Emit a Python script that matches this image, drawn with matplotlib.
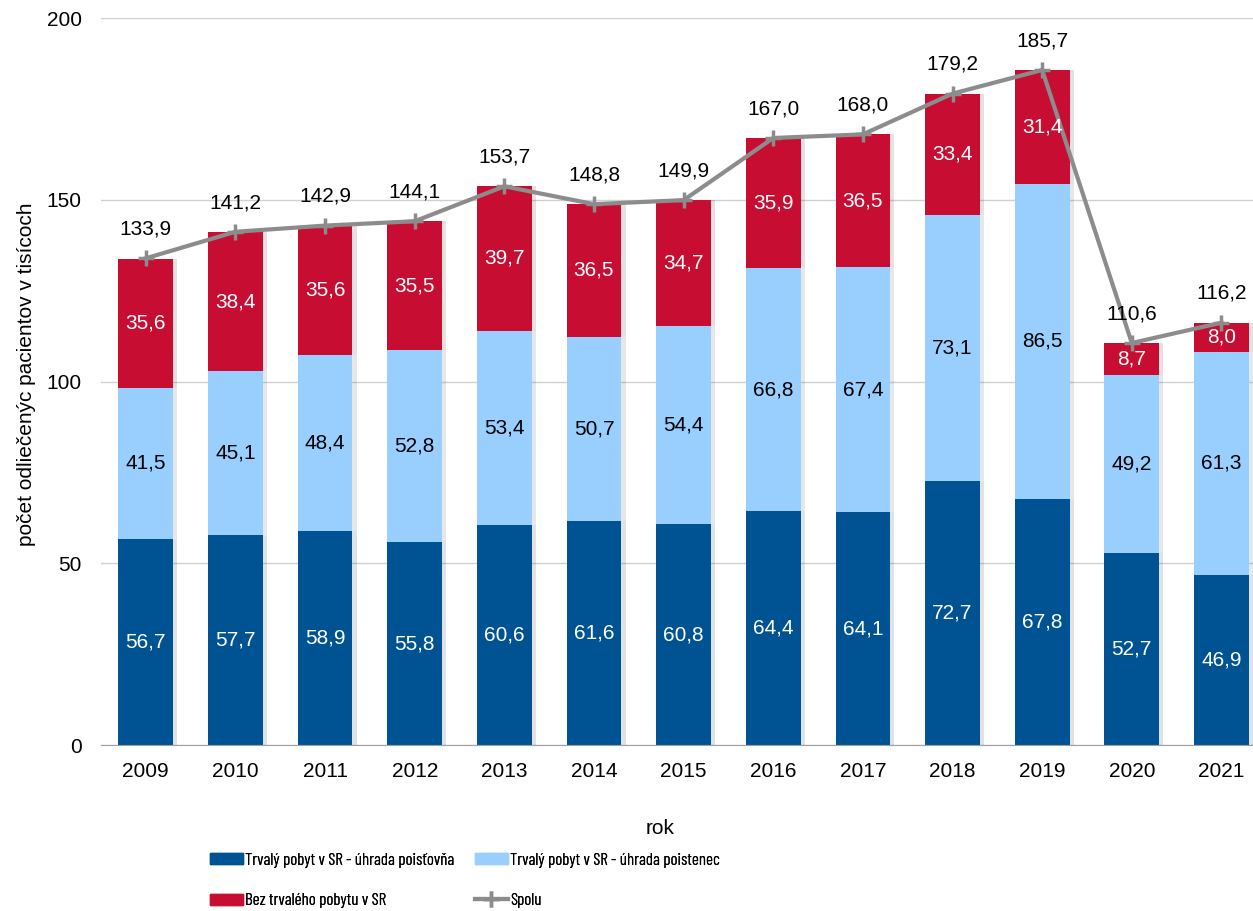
import numpy as np
import matplotlib.pyplot as plt
import matplotlib.patheffects as pe
from matplotlib.lines import Line2D
from matplotlib.patches import Patch

plt.rcParams['font.family'] = ['Liberation Sans', 'DejaVu Sans']

years = ['2009', '2010', '2011', '2012', '2013', '2014', '2015', '2016',
         '2017', '2018', '2019', '2020', '2021']
poistovna = [56.7, 57.7, 58.9, 55.8, 60.6, 61.6, 60.8, 64.4, 64.1, 72.7,
             67.8, 52.7, 46.9]
poistenec = [41.5, 45.1, 48.4, 52.8, 53.4, 50.7, 54.4, 66.8, 67.4, 73.1,
             86.5, 49.2, 61.3]
bez_pobytu = [35.6, 38.4, 35.6, 35.5, 39.7, 36.5, 34.7, 35.9, 36.5, 33.4,
              31.4, 8.7, 8.0]
spolu = [133.9, 141.2, 142.9, 144.1, 153.7, 148.8, 149.9, 167.0, 168.0,
         179.2, 185.7, 110.6, 116.2]

c_dark = '#005392'
c_light = '#99CFFF'
c_red = '#C70D31'
c_line = '#8C8C8C'
fs = 15
legend_font = ['Barlow Condensed', 'Archivo Narrow', 'Liberation Sans']


def fmt(v):
    return '{:.1f}'.format(v).replace('.', ',')


fig = plt.figure(figsize=(12.53, 9.11), dpi=100)
ax = fig.add_axes([0.0806, 0.1822, 0.930, 0.798])

x = np.arange(len(years))
w = 0.61
shadow = [pe.SimplePatchShadow(offset=(3, 0), alpha=0.12), pe.Normal()]
ax.bar(x, poistovna, w, color=c_dark, zorder=2, path_effects=shadow)
ax.bar(x, poistenec, w, bottom=poistovna, color=c_light, zorder=2,
       path_effects=shadow)
bottom3 = np.array(poistovna) + np.array(poistenec)
ax.bar(x, bez_pobytu, w, bottom=bottom3, color=c_red, zorder=2,
       path_effects=shadow)
ax.plot(x, spolu, color=c_line, lw=3, marker='+', ms=11, mew=2.5, zorder=3)

for i in range(len(years)):
    ax.text(x[i], poistovna[i] / 2, fmt(poistovna[i]), ha='center',
            va='center', color='white', fontsize=fs, zorder=4)
    ax.text(x[i], poistovna[i] + poistenec[i] / 2, fmt(poistenec[i]),
            ha='center', va='center', color='black', fontsize=fs, zorder=4)
    ax.text(x[i], bottom3[i] + bez_pobytu[i] / 2, fmt(bez_pobytu[i]),
            ha='center', va='center', color='white', fontsize=fs, zorder=4)
    ax.annotate(fmt(spolu[i]), (x[i], spolu[i]), xytext=(0, 21),
                textcoords='offset points', ha='center', va='center',
                fontsize=fs, zorder=4)

ax.set_xlim(-0.5, len(years) - 0.5)
ax.set_ylim(0, 200)
ax.set_yticks([0, 50, 100, 150, 200])
ax.set_xticks(x)
ax.set_xticklabels(years)
ax.tick_params(axis='both', length=0, labelsize=fs)
ax.tick_params(axis='x', pad=12)
ax.tick_params(axis='y', pad=14)
ax.grid(axis='y', color='#D0D0D0', lw=1, zorder=0)
for s in ['left', 'right', 'top']:
    ax.spines[s].set_visible(False)
ax.spines['bottom'].set_color('#A0A0A0')
ax.set_axisbelow(True)

ax.set_ylabel('počet odliečenýc pacientov v tisícoch', fontsize=fs)
ax.yaxis.set_label_coords(-0.056, 0.51)
fig.text(0.527, 0.091, 'rok', ha='center', va='center', fontsize=fs)

line_handle = Line2D([], [], color=c_line, lw=3, marker='+', ms=11, mew=2.5)
cols = [
    ([Patch(color=c_dark), Patch(color=c_red)],
     ['Trvalý pobyt v SR - úhrada poisťovňa', 'Bez trvalého pobytu v SR'],
     0.1676),
    ([Patch(color=c_light), line_handle],
     ['Trvalý pobyt v SR - úhrada poistenec', 'Spolu'],
     0.379),
]
for hs, ls, x0 in cols:
    leg = fig.legend(hs, ls, loc='upper left', bbox_to_anchor=(x0, 0.064),
                     frameon=False, prop={'family': legend_font, 'size': 12.2},
                     handlelength=1.95, handleheight=0.6, handletextpad=0.12,
                     labelspacing=1.5, borderaxespad=0, borderpad=0)
    fig.add_artist(leg)

fig.savefig('out.png', dpi=100)
